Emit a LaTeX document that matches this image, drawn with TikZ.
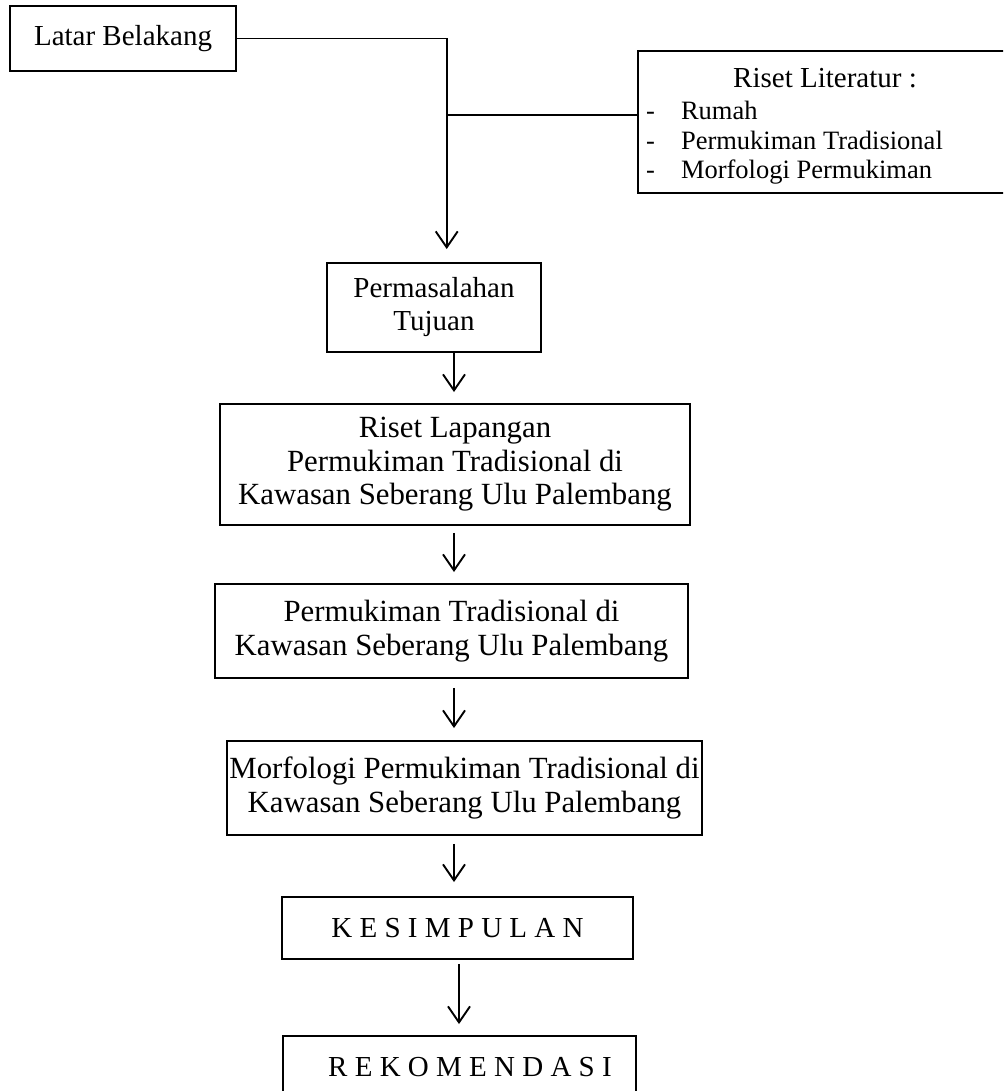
\documentclass[tikz,border=0pt]{standalone}
\usepackage{fontspec}
\setmainfont{Liberation Serif}
\usetikzlibrary{arrows.meta}

\begin{document}
\begin{tikzpicture}[x=1pt, y=-1pt,
	kotak/.style={draw, line width=1.9pt, align=center, inner sep=0pt, font=\fontsize{29}{33}\selectfont},
	kotakbesar/.style={kotak, font=\fontsize{30.8}{33.5}\selectfont},
	garis/.style={line width=1.9pt},
	panah/.style={garis, -{Straight Barb[length=16pt,width=22pt]}}]
			\def\sumbu{454};
			\def\trunk{446.7};
			\useasboundingbox (0,0) rectangle (1003,1091);
			\clip (0,0) rectangle (1003,1091);
			\node[kotak, minimum width=226pt, minimum height=65pt] (latar) at (123,38.5) {Latar Belakang};
			\node[kotak, minimum width=378pt, minimum height=142pt] (lit) at (827,122) {};
			\node[font=\fontsize{29}{33}\selectfont, anchor=base, inner sep=0pt] (littitle) at (825,88) {Riset Literatur :};
			\node[font=\fontsize{26.5}{29.5}\selectfont, anchor=base west, inner sep=0pt] (litlist) at (646,120)
				{\begin{tabular}[t]{@{}l@{\hspace{26pt}}l@{}}
				- & Rumah\\
				- & Permukiman Tradisional\\
				- & Morfologi Permukiman
				\end{tabular}};
			\node[kotak, minimum width=214pt, minimum height=89pt] (perm) at (434,307.5) {Permasalahan\\Tujuan};
			\node[kotakbesar, minimum width=470pt, minimum height=121pt] (lap) at (455,464.5) {Riset Lapangan\\Permukiman Tradisional di\\Kawasan Seberang Ulu Palembang};
			\node[kotakbesar, minimum width=473pt, minimum height=94pt] (tradi) at (451.5,631) {Permukiman Tradisional di\\Kawasan Seberang Ulu Palembang};
			\node[kotakbesar, minimum width=475pt, minimum height=94pt] (morf) at (464.5,788) {Morfologi Permukiman Tradisional di\\Kawasan Seberang Ulu Palembang};
			\node[kotak, minimum width=351pt, minimum height=62pt] (kes) at (457.5,928) {K E S I M P U L A N};
			\node[kotak, minimum width=353pt, minimum height=62pt] (rek) at (459.5,1067) {\hspace{21pt}R E K O M E N D A S I};
			% alur utama
			\coordinate (belok) at (\trunk,38.5);
			\coordinate (cabang) at (\trunk,115);
			\draw[panah, shorten >=13pt] (latar.east) -- (belok) -- (belok |- perm.north);
			\draw[garis] (cabang) -- (cabang -| lit.west);
			\draw[panah, shorten >=11pt] (perm.south -| \sumbu,0) -- (lap.north -| \sumbu,0);
			\draw[panah, shorten <=7pt, shorten >=11pt] (lap.south -| \sumbu,0) -- (tradi.north -| \sumbu,0);
			\draw[panah, shorten <=9pt, shorten >=12pt] (tradi.south -| \sumbu,0) -- (morf.north -| \sumbu,0);
			\draw[panah, shorten <=8pt, shorten >=14pt] (morf.south -| \sumbu,0) -- (kes.north -| \sumbu,0);
			\draw[panah, shorten <=4pt, shorten >=11pt] (kes.south -| 459,0) -- (rek.north -| 459,0);
\end{tikzpicture}
\end{document}
